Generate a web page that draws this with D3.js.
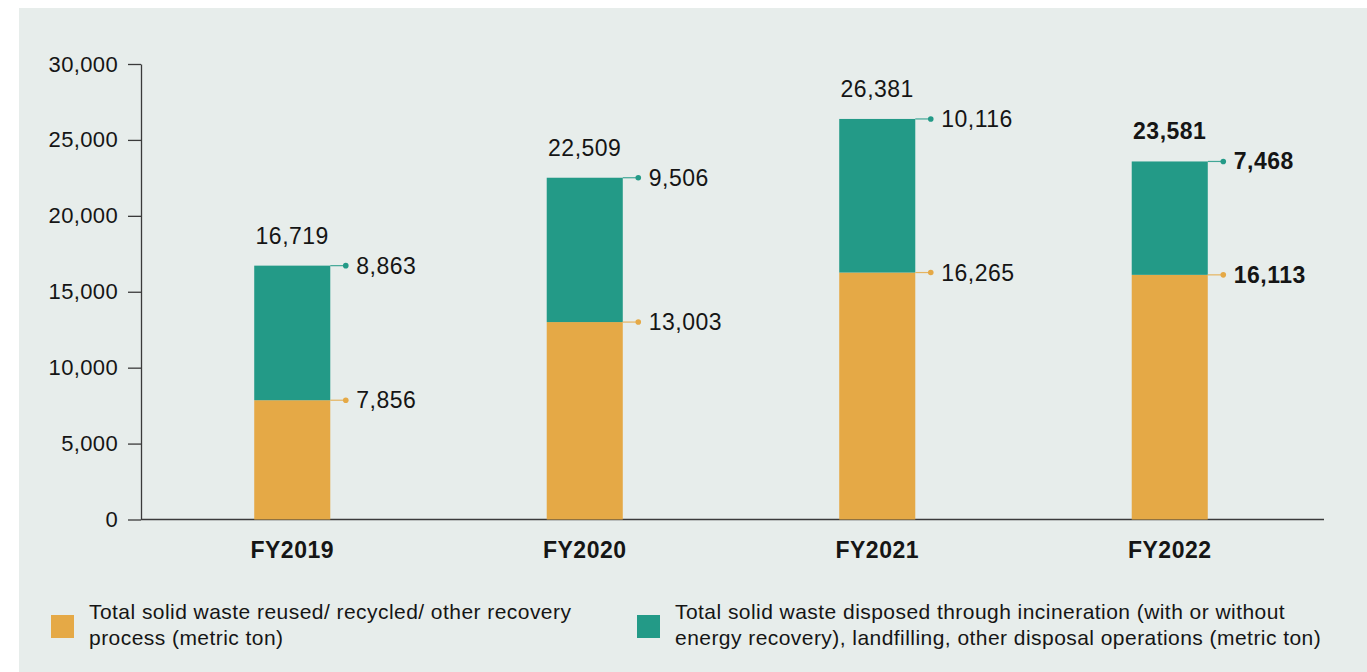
<!DOCTYPE html>
<html>
<head>
<meta charset="utf-8">
<script src="https://cdn.jsdelivr.net/npm/d3@7/dist/d3.min.js"></script>
<style>
  html, body { margin: 0; padding: 0; background: #ffffff; }
  svg { display: block; }
  text { font-family: "Liberation Sans", Arial, Helvetica, sans-serif; fill: #151515; }
</style>
</head>
<body>
<svg id="chart" width="1367" height="672"></svg>
<script>
// Solid waste by fiscal year (metric ton)
const years = ["FY2019", "FY2020", "FY2021", "FY2022"];
const recovered = [7856, 13003, 16265, 16113];   // reused / recycled / other recovery
const disposed = [8863, 9506, 10116, 7468];      // incineration, landfilling, other disposal
const totals = [16719, 22509, 26381, 23581];
const yTicks = [0, 5000, 10000, 15000, 20000, 25000, 30000];
const legendLabels = [
  ["Total solid waste reused/ recycled/ other recovery", "process (metric ton)"],
  ["Total solid waste disposed through incineration (with or without", "energy recovery), landfilling, other disposal operations (metric ton)"]
];
const highlightYear = "FY2022";

const colors = { recovered: "#e5a946", disposed: "#239a87" };
const fmt = d3.format(",");

const svg = d3.select("#chart");

// panel background
svg.append("rect")
  .attr("x", 19).attr("y", 8)
  .attr("width", 1367 - 19).attr("height", 672 - 8)
  .attr("fill", "#e7edeb");

const x = d3.scaleBand()
  .domain(years)
  .range([146, 1316])
  .paddingInner(0.74)
  .paddingOuter(0.37);

const y = d3.scaleLinear()
  .domain([0, 30000])
  .range([519.5, 64]);

const axisX0 = 141, axisX1 = 1324;

// y axis
const yAxis = svg.append("g")
  .attr("transform", `translate(${axisX0},0)`)
  .call(d3.axisLeft(y).tickValues(yTicks).tickFormat(fmt).tickSize(13).tickSizeOuter(0).tickPadding(10));
yAxis.select(".domain").attr("stroke", "#3a3a3a").attr("stroke-width", 1.3);
yAxis.selectAll(".tick line").attr("stroke", "#3a3a3a").attr("stroke-width", 1.3);
yAxis.selectAll(".tick text")
  .attr("font-size", 22)
  .attr("letter-spacing", 0.35)
  .attr("font-family", "\"Liberation Sans\", Arial, sans-serif")
  .attr("fill", "#151515");

// baseline
svg.append("line")
  .attr("x1", axisX0).attr("x2", axisX1)
  .attr("y1", y(0)).attr("y2", y(0))
  .attr("stroke", "#3a3a3a").attr("stroke-width", 1.3);

const rows = years.map((yr, i) => ({
  year: yr, rec: recovered[i], dis: disposed[i], total: totals[i]
}));

const bars = svg.append("g");

// lower segment: recovered
bars.selectAll("rect.rec")
  .data(rows).join("rect")
  .attr("class", "rec")
  .attr("x", d => x(d.year))
  .attr("width", x.bandwidth())
  .attr("y", d => y(d.rec))
  .attr("height", d => y(0) - y(d.rec))
  .attr("fill", colors.recovered);

// upper segment: disposed
bars.selectAll("rect.dis")
  .data(rows).join("rect")
  .attr("class", "dis")
  .attr("x", d => x(d.year))
  .attr("width", x.bandwidth())
  .attr("y", d => y(d.rec + d.dis))
  .attr("height", d => y(d.rec) - y(d.rec + d.dis))
  .attr("fill", colors.disposed);

// leader lines with dot and value label for each segment top
function callout(key, color, topOf) {
  const g = svg.append("g").selectAll("g")
    .data(rows).join("g")
    .attr("transform", d => `translate(${x(d.year) + x.bandwidth()},${y(topOf(d))})`);
  g.append("line")
    .attr("x1", 0).attr("x2", 15.5)
    .attr("y1", 0).attr("y2", 0)
    .attr("stroke", color).attr("stroke-width", 1.2).attr("stroke-opacity", 0.85);
  g.append("circle")
    .attr("cx", 15.5).attr("cy", 0).attr("r", 2.8)
    .attr("fill", color);
  g.append("text")
    .attr("x", 26).attr("y", 8)
    .attr("font-size", 23)
    .attr("letter-spacing", 0.5)
    .attr("font-weight", d => d.year === highlightYear ? "bold" : "normal")
    .text(d => fmt(d[key]));
}
callout("dis", colors.disposed, d => d.rec + d.dis);
callout("rec", colors.recovered, d => d.rec);

// totals above bars
svg.append("g").selectAll("text")
  .data(rows).join("text")
  .attr("x", d => x(d.year) + x.bandwidth() / 2)
  .attr("y", d => y(d.total) - 22)
  .attr("text-anchor", "middle")
  .attr("font-size", 23)
  .attr("letter-spacing", 0.5)
  .attr("font-weight", d => d.year === highlightYear ? "bold" : "normal")
  .text(d => fmt(d.total));

// category labels
svg.append("g").selectAll("text")
  .data(years).join("text")
  .attr("x", d => x(d) + x.bandwidth() / 2)
  .attr("y", 558)
  .attr("text-anchor", "middle")
  .attr("font-size", 23)
  .attr("letter-spacing", 0.5)
  .attr("font-weight", "bold")
  .text(d => d);

// legend
const legendItems = [
  { color: colors.recovered, x: 51, lines: legendLabels[0] },
  { color: colors.disposed, x: 637, lines: legendLabels[1] }
];
const lg = svg.append("g").selectAll("g")
  .data(legendItems).join("g")
  .attr("transform", d => `translate(${d.x},615)`);
lg.append("rect")
  .attr("width", 23).attr("height", 23)
  .attr("fill", d => d.color);
lg.append("text")
  .attr("x", 38)
  .attr("font-size", 21)
  .attr("letter-spacing", 0.45)
  .attr("fill", "#222222")
  .selectAll("tspan")
  .data(d => d.lines).join("tspan")
  .attr("x", 38)
  .attr("y", (d, i) => 4 + i * 26)
  .text(d => d);
</script>
</body>
</html>
